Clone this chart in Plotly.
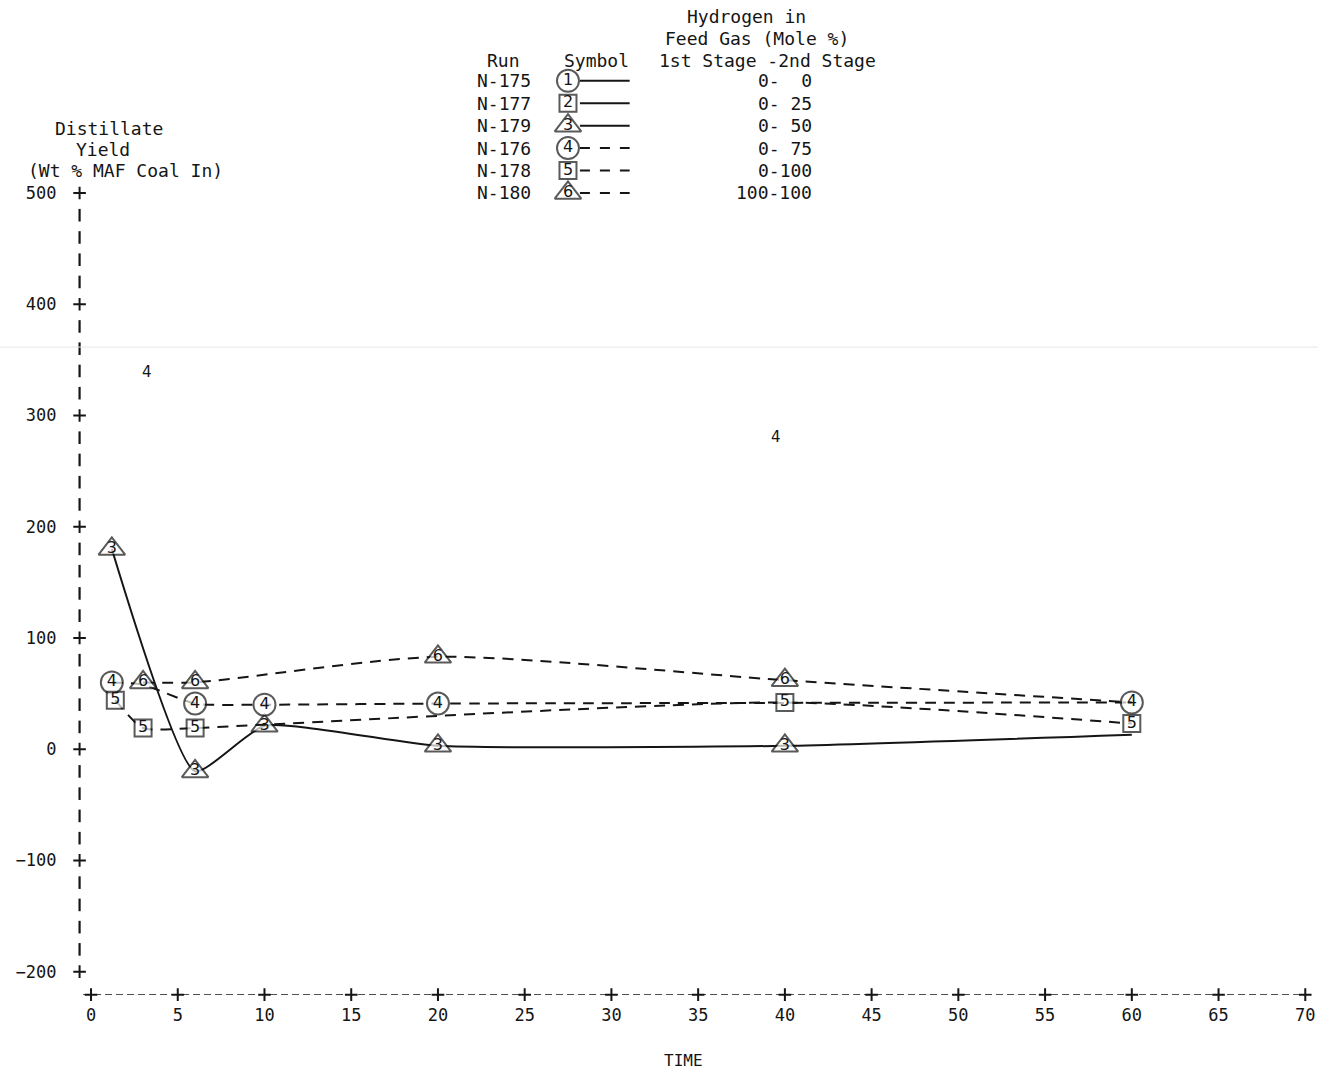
import plotly.graph_objects as go

# ---------------- data ----------------
# N-179 (triangle 3, solid)
time_n179 = [1.2, 6, 10, 20, 40, 60]
yield_n179 = [180, -20, 21, 3, 3, 13]
marked_n179 = [True, True, True, True, True, False]

# N-176 (circle 4, dashed)
time_n176 = [1.2, 3, 6, 10, 20, 60]
yield_n176 = [60, 58, 41, 40, 41, 42]
marked_n176 = [True, False, True, True, True, True]

# N-178 (square 5, dashed)
time_n178 = [1.4, 3, 6, 10, 40, 60]
yield_n178 = [44, 19, 19, 22, 42, 23]
marked_n178 = [True, True, True, False, True, True]

# N-180 (triangle 6, dashed)
time_n180 = [3, 6, 20, 40, 60]
yield_n180 = [60, 60, 83, 62, 42]
marked_n180 = [True, True, True, True, False]

# legend table
legend_runs = ["N-175", "N-177", "N-179", "N-176", "N-178", "N-180"]
legend_nums = ["1", "2", "3", "4", "5", "6"]
legend_symbols = ["circle", "square", "triangle-up", "circle", "square", "triangle-up"]
legend_dashes = ["solid", "solid", "solid", "dash", "dash", "dash"]
legend_h2 = ["0-\u00a0\u00a00", "0-\u00a025", "0-\u00a050", "0-\u00a075", "0-100", "100-100"]

# axes ticks
x_tick_vals = list(range(0, 75, 5))
y_tick_vals = [-200, -100, 0, 100, 200, 300, 400, 500]

# ---------------- styling ----------------
W, H = 1325, 1071
INK = "#151515"
MONO = "DejaVu Sans Mono"
SANS = "DejaVu Sans"
x_range = [-0.66, 70.16]
y_range = [-220.7, 500]
sym_size = {"circle": 22, "square": 17, "triangle-up": 23}
dash_map = {"solid": "solid", "dash": "11px,8px"}

# calibration between figure pixels and the photographed picture
AX, AY, CY = 1.0, 0.9898, 10.2
def fx(x):   # picture px -> figure px
    return x / AX
def fy(y):
    return (y - CY) / AY

PLOT_L, PLOT_R, PLOT_T, PLOT_B = 80, 1315, 193, 994   # picture pixels

series = [
    dict(num="3", symbol="triangle-up", dash="solid", x=time_n179, y=yield_n179, shown=marked_n179, sm=0.5),
    dict(num="4", symbol="circle", dash="dash", x=time_n176, y=yield_n176, shown=marked_n176, sm=0.6),
    dict(num="5", symbol="square", dash="dash", x=time_n178, y=yield_n178, shown=marked_n178, sm=0.6),
    dict(num="6", symbol="triangle-up", dash="dash", x=time_n180, y=yield_n180, shown=marked_n180, sm=0.7),
]

fig = go.Figure()

for s in series:
    sizes = [sym_size[s["symbol"]] if m else 0 for m in s["shown"]]
    texts = [s["num"] if m else "" for m in s["shown"]]
    fig.add_trace(go.Scatter(
        x=s["x"], y=s["y"], mode="lines+markers+text", text=texts,
        textposition="middle center",
        textfont=dict(family=SANS, size=16, color=INK),
        line=dict(color=INK, width=2, dash=dash_map[s["dash"]], shape="spline", smoothing=s["sm"]),
        marker=dict(symbol=s["symbol"], size=sizes, color="white", line=dict(color=INK, width=2)),
        cliponaxis=False, showlegend=False, hoverinfo="skip",
    ))

# axis decorations: "+" ticks and "!" marks of the line-printer axes
fig.add_trace(go.Scatter(
    x=[x_range[0]] * len(y_tick_vals), y=y_tick_vals, mode="markers",
    marker=dict(symbol="cross-thin", size=9, line=dict(color=INK, width=2)),
    cliponaxis=False, showlegend=False, hoverinfo="skip"))
fig.add_trace(go.Scatter(
    x=x_tick_vals, y=[y_range[0]] * len(x_tick_vals), mode="markers",
    marker=dict(symbol="cross-thin", size=9, line=dict(color=INK, width=2)),
    cliponaxis=False, showlegend=False, hoverinfo="skip"))
bang_y = [t + k * 20 for t in y_tick_vals[:-1] for k in range(1, 5)]
fig.add_trace(go.Scatter(
    x=[x_range[0]] * len(bang_y), y=bang_y, mode="markers",
    marker=dict(symbol="line-ns", size=9, line=dict(color=INK, width=2.2)),
    cliponaxis=False, showlegend=False, hoverinfo="skip"))

shapes = [
    dict(type="line", xref="x", yref="y", x0=x_range[0] + 0.2, x1=x_range[1], y0=y_range[0], y1=y_range[0],
         line=dict(color=INK, width=1.5, dash="7px,4px")),
    # faint scan streak
    dict(type="line", xref="paper", yref="y2", x0=0, x1=1, y0=347, y1=347,
         line=dict(color="#e6e6e6", width=1)),
]

# ---------------- legend table (picture-pixel overlay axes x2/y2) ----------------
row0, row_gap = 81, 22.4
rows = [row0 + i * row_gap for i in range(len(legend_runs))]
fig.add_trace(go.Scatter(
    x=[571] * len(rows), y=rows, mode="markers+text", text=legend_nums,
    textposition="middle center", textfont=dict(family=SANS, size=16, color=INK),
    marker=dict(symbol=legend_symbols, size=[sym_size[s] for s in legend_symbols],
                color="white", line=dict(color=INK, width=2)),
    xaxis="x2", yaxis="y2", cliponaxis=False, showlegend=False, hoverinfo="skip"))
for r, d in zip(rows, legend_dashes):
    shapes.append(dict(type="line", xref="x2", yref="y2", x0=583, x1=633, y0=r, y1=r,
                       line=dict(color=INK, width=2, dash="solid" if d == "solid" else "10px,10px"),
                       layer="below"))

ann = []
def txt(x, y, t, anchor="center", size=18, family=MONO):
    ann.append(dict(xref="x2", yref="y2", x=x, y=y, text=t, showarrow=False,
                    xanchor=anchor, yanchor="middle", font=dict(family=family, size=size, color=INK)))

txt(750, 17, "Hydrogen in")
txt(761, 39, "Feed Gas (Mole %)")
txt(772, 61, "1st Stage -2nd Stage")
txt(506, 61, "Run")
txt(600, 61, "Symbol")
for r, run, h in zip(rows, legend_runs, legend_h2):
    txt(507, r, run)
    txt(818, r, h, anchor="right")

# y-axis title
txt(110, 129, "Distillate")
txt(104, 150, "Yield")
txt(126, 171, "(Wt % MAF Coal In)")
# x-axis title
txt(687, 1060, "TIME", size=16)
# stray printed marks
txt(148, 372, "4", size=15, family=SANS)
txt(780, 437, "4", size=15, family=SANS)

fig.update_layout(
    width=W, height=H, autosize=False,
    margin=dict(l=0, r=0, t=0, b=0),
    paper_bgcolor="white", plot_bgcolor="rgba(0,0,0,0)",
    font=dict(family=MONO, size=17, color=INK),
    shapes=shapes, annotations=ann,
    xaxis=dict(domain=[fx(PLOT_L) / W, fx(PLOT_R) / W], range=x_range, tickvals=x_tick_vals,
               showgrid=False, zeroline=False, showline=False, ticks="",
               ticklabelstandoff=8, ticklabeloverflow="allow",
               tickfont=dict(family=MONO, size=17, color=INK)),
    yaxis=dict(domain=[(H - fy(PLOT_B)) / H, (H - fy(PLOT_T)) / H], range=y_range, tickvals=y_tick_vals,
               showgrid=False, zeroline=False, showline=False, ticks="",
               ticklabelstandoff=22, tickfont=dict(family=MONO, size=17, color=INK)),
    xaxis2=dict(domain=[0, 1], range=[0, W * AX], visible=False, anchor="y2"),
    yaxis2=dict(domain=[0, 1], range=[H * AY + CY, CY], visible=False, anchor="x2"),
)

pin_page = (
    "document.body.style.margin='0';"
    "document.body.style.overflow='hidden';"
    "var d=document.getElementById('{plot_id}');"
    "d.style.position='fixed';d.style.left='0px';d.style.top='0px';"
)
fig.write_html("out.html", config={"displayModeBar": False, "staticPlot": True},
               post_script=pin_page)
